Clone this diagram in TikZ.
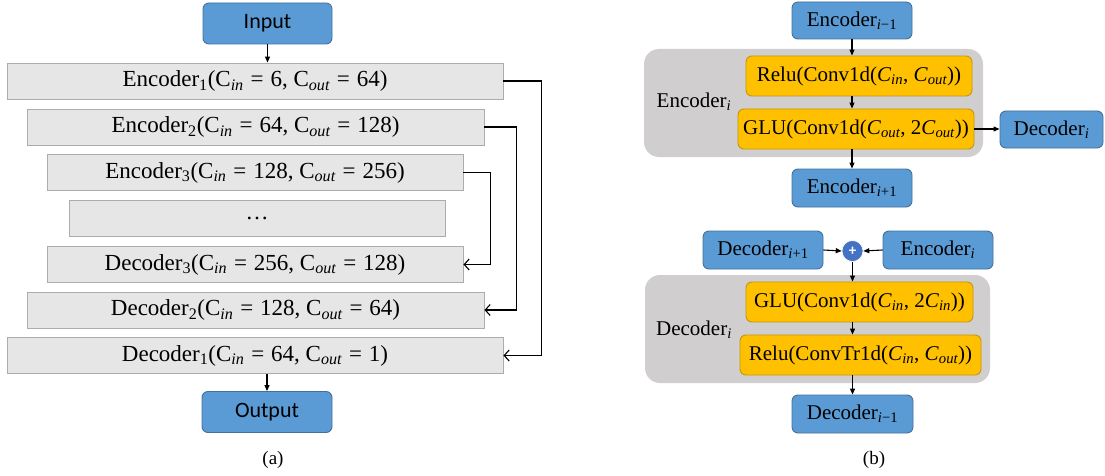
\documentclass[tikz,border=0pt]{standalone}
\usepackage{fontspec}
\setmainfont{Liberation Serif}
\newfontfamily\calibrifont{Carlito}
\usetikzlibrary{arrows.meta}

\definecolor{blueFill}{RGB}{91,155,213}
\definecolor{blueLine}{RGB}{65,113,156}
\definecolor{goldFill}{RGB}{255,192,0}
\definecolor{goldLine}{RGB}{196,150,10}
\definecolor{panelGray}{RGB}{208,206,206}
\definecolor{layerFill}{RGB}{231,230,230}
\definecolor{layerLine}{RGB}{175,171,171}
\definecolor{sumBlue}{RGB}{68,114,196}

% subscripts set in the text font
\newcommand\lsub[1]{\textsubscript{#1}}
\newcommand\Cin{C\lsub{\itshape in}}
\newcommand\Cout{C\lsub{\itshape out}}
\newcommand\iCin{\textit{C}\lsub{\itshape in}}
\newcommand\iCout{\textit{C}\lsub{\itshape out}}
\newcommand\eq{\kern.3em=\kern.3em}

\tikzset{
  layer/.style={draw=layerLine, fill=layerFill, line width=0.9pt,
    minimum height=36pt, inner sep=0pt, font=\fontsize{23}{27}\selectfont},
  io/.style={draw=blueLine, fill=blueFill, rounded corners=6pt, line width=0.9pt,
    minimum width=129pt, minimum height=41pt, inner sep=0pt,
    font=\calibrifont\fontsize{22}{26}\selectfont},
  blk/.style={draw=blueLine, fill=blueFill, rounded corners=6pt, line width=0.9pt,
    minimum height=38pt, inner sep=0pt, font=\fontsize{21}{25}\selectfont},
  op/.style={draw=goldLine, fill=goldFill, rounded corners=6pt, line width=0.9pt,
    minimum height=40pt, inner sep=0pt, font=\fontsize{21}{25}\selectfont},
  panel/.style={fill=panelGray, rounded corners=15pt, inner sep=0pt},
  tag/.style={inner sep=0pt, font=\fontsize{21}{25}\selectfont},
  caption/.style={inner sep=0pt, font=\fontsize{19}{23}\selectfont},
  flow/.style={-{Triangle[length=6pt,width=5pt]}, line width=1.1pt},
  skip/.style={-{Straight Barb[length=5pt,width=11pt]}, line width=1.1pt},
}

\begin{document}
\begin{tikzpicture}[x=1pt, y=-1pt]
\useasboundingbox (0,0) rectangle (1105,476);

% ---------------- (a) encoder/decoder stack ----------------
\node[io] (in) at (267.5,23.5) {Input};
\node[layer, minimum width=496pt] (e1) at (255,81)
  {Encoder\lsub{1}(\Cin\eq6, \Cout\eq64)};
\node[layer, minimum width=457pt] (e2) at (255.5,127)
  {Encoder\lsub{2}(\Cin\eq64, \Cout\eq128)};
\node[layer, minimum width=416pt] (e3) at (255,172.5)
  {Encoder\lsub{3}(\Cin\eq128, \Cout\eq256)};
\node[layer, minimum width=376pt] (mid) at (257,218.5) {\dots};
\node[layer, minimum width=416pt] (d3) at (255,264.5)
  {Decoder\lsub{3}(\Cin\eq256, \Cout\eq128)};
\node[layer, minimum width=457pt] (d2) at (255.5,310)
  {Decoder\lsub{2}(\Cin\eq128, \Cout\eq64)};
\node[layer, minimum width=496pt] (d1) at (255,355.5)
  {Decoder\lsub{1}(\Cin\eq64, \Cout\eq1)};
\node[io, minimum width=130pt] (out) at (267,412) {Output};
\node[caption] (capa) at (273,460) {(a)};

\draw[flow] (in) -- (in |- e1.north);
\draw[flow] (out |- d1.south) -- (out);

\draw[skip] (e1.east) -- ++(38,0) |- (d1.east);
\draw[skip] (e2.east) -- ++(32,0) |- (d2.east);
\draw[skip] (e3.east) -- ++(27,0) |- (d3.east);

% ---------------- (b) encoder block ----------------
\node[panel, minimum width=339pt, minimum height=108pt] (encpanel) at (813.5,103) {};
\node[blk, minimum width=120pt, minimum height=37pt] (eprev) at (852,20.5) {Encoder\lsub{\itshape i\upshape −1}};
\node[op, minimum width=226pt] (relu) at (859,76) {Relu(Conv1d(\iCin, \iCout))};
\node[op, minimum width=236pt] (glu) at (856,129) {GLU(Conv1d(\iCout, 2\iCout))};
\node[tag] (enclab) at (694,102) {Encoder\lsub{\itshape i}};
\node[blk, minimum width=103pt, minimum height=37pt] (deci) at (1051.5,129.5) {Decoder\lsub{\itshape i}};
\node[blk, minimum width=120pt] (enext) at (852,188) {Encoder\lsub{\itshape i\upshape +1}};

\draw[flow] (eprev) -- (eprev |- relu.north);
\draw[flow] (relu.south -| eprev) -- (glu.north -| eprev);
\draw[flow] (glu.south -| eprev) -- (enext);
\draw[flow] (glu.east) -- (glu.east -| deci.west);

% ---------------- (b) decoder block ----------------
\node[panel, minimum width=345pt, minimum height=108pt] (decpanel) at (817.5,329) {};
\node[blk, minimum width=120pt] (dnext) at (763,250) {Decoder\lsub{\itshape i\upshape +1}};
\node[circle, fill=sumBlue, draw=white, line width=0.6pt, minimum size=21pt, inner sep=0pt,
  text=white, font=\calibrifont\bfseries\fontsize{15}{15}\selectfont] (sum) at (852.5,251) {+};
\node[blk, minimum width=110pt] (enci) at (938,250) {Encoder\lsub{\itshape i}};
\node[op, minimum width=227pt] (glu2) at (859.5,302) {GLU(Conv1d(\iCin, 2\iCin))};
\node[op, minimum width=241pt] (relu2) at (860.5,355) {Relu(ConvTr1d(\iCin, \iCout))};
\node[tag] (declab) at (694,330) {Decoder\lsub{\itshape i}};
\node[blk, minimum width=121pt] (dprev) at (852.5,414) {Decoder\lsub{\itshape i\upshape −1}};
\node[caption] (capb) at (874,460) {(b)};

\draw[flow] (dnext.east) -- (sum.west);
\draw[flow] (enci.west) -- (sum.east);
\draw[flow] (sum.south) -- (sum.south |- glu2.north);
\draw[flow] (glu2.south -| sum) -- (relu2.north -| sum);
\draw[flow] (relu2.south -| sum) -- (dprev.north -| sum);
\end{tikzpicture}
\end{document}
